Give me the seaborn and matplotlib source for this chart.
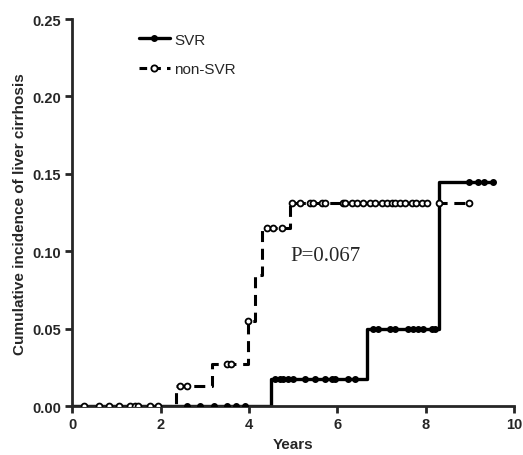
import numpy as np
import pandas as pd
import matplotlib
matplotlib.use("Agg")
import matplotlib.pyplot as plt
import seaborn as sns
from matplotlib.lines import Line2D

# Step curves (time, cumulative incidence)
svr_times = [0.0, 4.5, 6.67, 8.31, 9.55]
svr_vals = [0.0, 0.0174, 0.0497, 0.1447, 0.1447]
nonsvr_times = [0.0, 2.35, 3.17, 3.98, 4.14, 4.30, 4.93, 9.0]
nonsvr_vals = [0.0, 0.0129, 0.027, 0.055, 0.085, 0.115, 0.1315, 0.1315]

# Censor marks
svr_cens = [2.6, 2.9, 3.2, 3.5, 3.7, 3.9,
            4.6, 4.7, 4.77, 4.89, 5.0, 5.27, 5.5, 5.72, 5.88, 5.95, 6.24, 6.4,
            6.81, 6.93, 7.19, 7.31, 7.6, 7.71, 7.83, 7.94, 8.14, 8.21,
            8.97, 9.19, 9.31, 9.53]
nonsvr_cens = [0.27, 0.61, 0.84, 1.07, 1.31, 1.42, 1.5, 1.75, 1.95,
               2.45, 2.6, 3.5, 3.6, 3.98, 4.4, 4.55, 4.75,
               4.97, 5.16, 5.38, 5.46, 5.65, 5.72, 6.13, 6.18, 6.33, 6.44,
               6.59, 6.74, 6.86, 7.01, 7.12, 7.23, 7.31, 7.42, 7.53, 7.68,
               7.79, 7.91, 8.02, 8.29, 8.99]

xticks = [0, 2, 4, 6, 8, 10]
yticks = [0.00, 0.05, 0.10, 0.15, 0.20, 0.25]


def step_val(times, vals, t):
    idx = np.searchsorted(np.array(times), t, side="right") - 1
    return np.array(vals)[idx]


sns.set_style("ticks")
plt.rcParams['font.family'] = ['Liberation Sans', 'DejaVu Sans']

fig = plt.figure(figsize=(5.23, 4.56), dpi=100)
ax = fig.add_axes([0.138, 0.107, 0.845, 0.849])

df_svr = pd.DataFrame({"t": svr_times, "v": svr_vals})
df_non = pd.DataFrame({"t": nonsvr_times, "v": nonsvr_vals})
sns.lineplot(data=df_non, x="t", y="v", ax=ax, drawstyle="steps-post",
             color="black", lw=2.2, dashes=False, linestyle=(0, (3.6, 2.2)))
sns.lineplot(data=df_svr, x="t", y="v", ax=ax, drawstyle="steps-post",
             color="black", lw=2.4)

cs = pd.DataFrame({"t": svr_cens,
                   "v": [step_val(svr_times, svr_vals, t) for t in svr_cens]})
cn = pd.DataFrame({"t": nonsvr_cens,
                   "v": [step_val(nonsvr_times, nonsvr_vals, t) for t in nonsvr_cens]})
sns.scatterplot(data=cs, x="t", y="v", ax=ax, color="black", s=16,
                marker="o", edgecolor="black", linewidth=1, zorder=4)
sns.scatterplot(data=cn, x="t", y="v", ax=ax, facecolor="white", s=18,
                marker="o", edgecolor="black", linewidth=1.3, zorder=5)

ax.set_xlim(0, 10)
ax.set_ylim(0, 0.25)
ax.set_xticks(xticks)
ax.set_xticklabels([str(x) for x in xticks])
ax.set_yticks(yticks)
ax.set_yticklabels([f"{y:.2f}" for y in yticks])
for lab in ax.get_xticklabels() + ax.get_yticklabels():
    lab.set_fontweight("bold")
    lab.set_fontsize(10.5)
ax.tick_params(width=2, length=5, direction="out", pad=3)
for s in ["left", "bottom"]:
    ax.spines[s].set_linewidth(2)
sns.despine(ax=ax)

ax.set_xlabel("Years", fontweight="bold", fontsize=11, labelpad=4)
ax.set_ylabel("Cumulative incidence of liver cirrhosis", fontweight="bold",
              fontsize=11, labelpad=4)

ax.text(4.93, 0.097, "P=0.067", fontsize=15, family=["Liberation Serif"],
        va="center", ha="left")

handles = [Line2D([], [], color="black", lw=2.4, marker="o", ms=4,
                  markerfacecolor="black"),
           Line2D([], [], color="black", lw=2.2, linestyle=(0, (2.5, 2)),
                  marker="o", ms=4.5, markerfacecolor="white", markeredgewidth=1.3)]
leg = ax.legend(handles, ["SVR", "non-SVR"], loc="upper left",
                bbox_to_anchor=(0.12, 1.0), frameon=False, fontsize=11,
                handlelength=2.0, handletextpad=0.3, labelspacing=1.0)

fig.savefig("out.png", dpi=100)
